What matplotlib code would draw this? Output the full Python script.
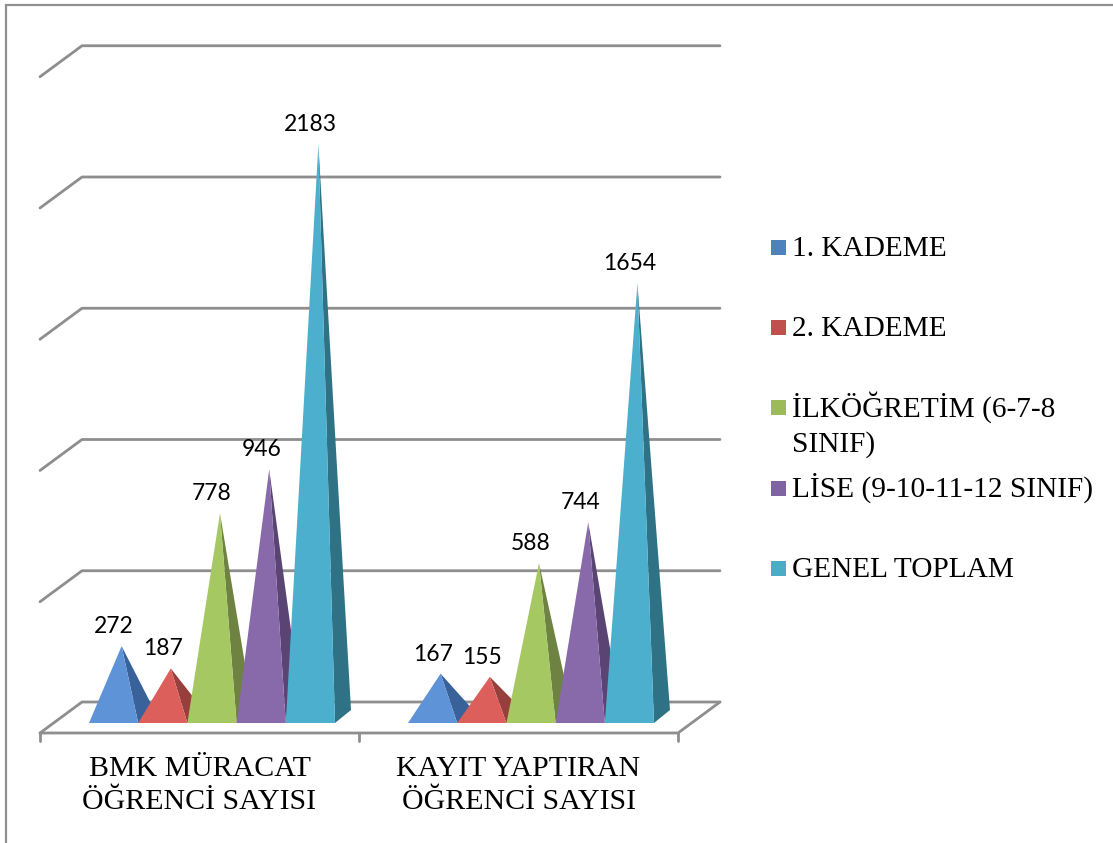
import matplotlib
matplotlib.use('Agg')
import matplotlib.pyplot as plt
from matplotlib.patches import Polygon, Rectangle

categories = ['BMK MÜRACAT\nÖĞRENCİ SAYISI', 'KAYIT YAPTIRAN\nÖĞRENCİ SAYISI']
series_names = ['1. KADEME', '2. KADEME', 'İLKÖĞRETİM (6-7-8\nSINIF)',
                'LİSE (9-10-11-12 SINIF)', 'GENEL TOPLAM']
bmk_values = [272, 187, 778, 946, 2183]
kayit_values = [167, 155, 588, 744, 1654]
group_values = [bmk_values, kayit_values]
grid_values = [0, 500, 1000, 1500, 2000, 2500]

front_colors = ['#5f93d8', '#dc5f5c', '#a6c862', '#8869aa', '#4bafcd']
side_colors = ['#39629a', '#963f3c', '#6e8341', '#5a4474', '#2f7185']
swatch_colors = ['#4f81bd', '#c0504d', '#9bbb59', '#8064a2', '#4bacc6']
grid_color = '#8e8e8e'

W, H = 1113, 843
px_per_group = 319.0
px_per_value = 0.2625
x0_px = 40.0
y0_px = 723.0

fig = plt.figure(figsize=(W / 100, H / 100), dpi=100, facecolor='white')
ax = fig.add_axes([0, 0, 1, 1])
ax.set_xlim(-x0_px / px_per_group, (W - x0_px) / px_per_group)
ax.set_ylim((y0_px - H) / px_per_value, y0_px / px_per_value)
ax.axis('off')

# 3d look: depth of the floor and of the pyramids, in data units
floor_dx = 42 / px_per_group
floor_dy = 31 / px_per_value
floor_front = -10 / px_per_value
back_y = floor_front + floor_dy
bar_w = 49.2 / px_per_group
bar_dx = 16 / px_per_group
bar_dy = 13 / px_per_value
first_bar = 49 / px_per_group

line = dict(color=grid_color, lw=2.0, solid_capstyle='round', solid_joinstyle='round')
for v in grid_values:
    y = back_y + v
    ax.plot([0, floor_dx, 2 + floor_dx], [y - floor_dy, y, y], **line)
ax.plot([0, 2, 2 + floor_dx], [floor_front, floor_front, back_y], **line)
for g in range(3):
    ax.plot([g, g], [floor_front, floor_front - 8 / px_per_value], **line)

for g, values in enumerate(group_values):
    for s, v in enumerate(values):
        left = g + first_bar + s * bar_w
        right = left + bar_w
        apex = (left + bar_w / 2 + bar_dx / 2, v + bar_dy / 2 - 1.0 / px_per_value)
        ax.add_patch(Polygon([(right, 0), (right + bar_dx, bar_dy), apex],
                             facecolor=side_colors[s], edgecolor='none', zorder=3 + s))
        ax.add_patch(Polygon([(left, 0), (right, 0), apex],
                             facecolor=front_colors[s], edgecolor='none', zorder=3 + s))
        ax.text(apex[0] - 8 / px_per_group, apex[1] + 9 / px_per_value, str(v),
                family=['Lato', 'DejaVu Sans'], fontsize=16.5, color='black',
                ha='center', va='bottom', zorder=10)

for g, name in enumerate(categories):
    ax.text(g + 0.5, floor_front - 23 / px_per_value, name,
            family=['Liberation Serif'], fontsize=21.5, color='black',
            ha='center', va='top', linespacing=1.35)

# legend and outer frame, placed in pixels
ax_leg = fig.add_axes([0, 0, 1, 1])
ax_leg.set_xlim(0, W)
ax_leg.set_ylim(H, 0)
ax_leg.axis('off')
ax_leg.patch.set_alpha(0)

legend_y = [247.5, 327.5, 407.5, 488, 568]
for y, name, c in zip(legend_y, series_names, swatch_colors):
    ax_leg.add_patch(Rectangle((771, y - 7.5), 15, 15, facecolor=c, edgecolor='none'))
    for i, part in enumerate(name.split('\n')):
        ax_leg.text(792, y + 9 + 35 * i, part, family=['Liberation Serif'], fontsize=21.2,
                    color='black', ha='left', va='baseline')

ax_leg.plot([5.5, 5.5, W], [H, 4.5, 4.5], color='#909090', lw=1.6, solid_joinstyle='miter')

fig.savefig('out.png', dpi=100, facecolor='white')
